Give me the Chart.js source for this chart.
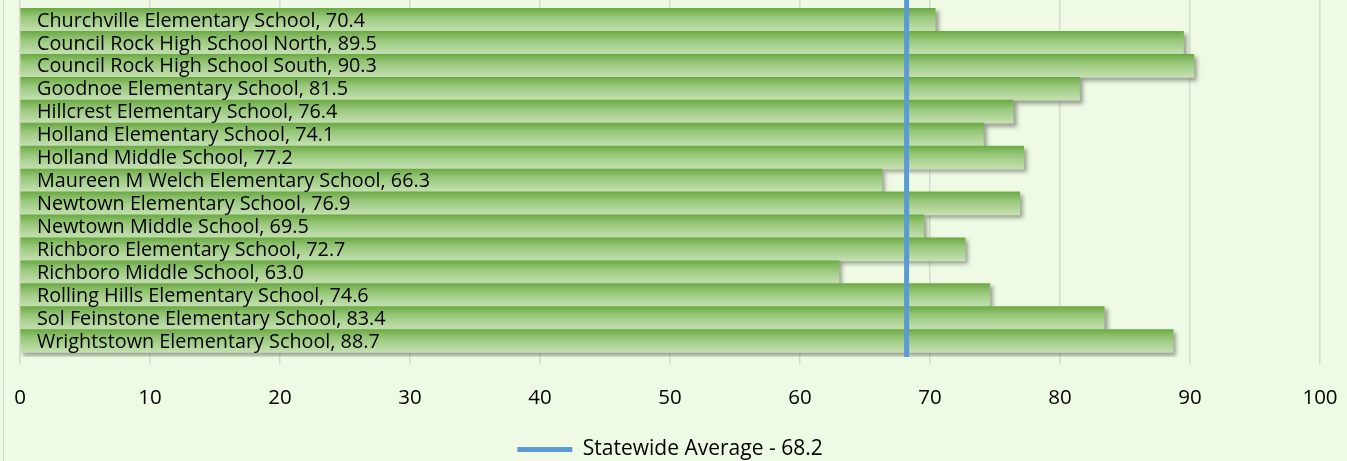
<!DOCTYPE html>
<html><head><meta charset="utf-8">
<script src="https://cdn.jsdelivr.net/npm/chart.js@4/dist/chart.umd.min.js"></script>
<style>html,body{margin:0;padding:0;background:#EEFAE3;}#wrap{width:1347px;height:461px;position:relative;}</style>
</head><body><div id="wrap"><canvas id="c" width="1347" height="461"></canvas></div>
<script>
const schools = ["Churchville Elementary School","Council Rock High School North","Council Rock High School South","Goodnoe Elementary School","Hillcrest Elementary School","Holland Elementary School","Holland Middle School","Maureen M Welch Elementary School","Newtown Elementary School","Newtown Middle School","Richboro Elementary School","Richboro Middle School","Rolling Hills Elementary School","Sol Feinstone Elementary School","Wrightstown Elementary School"];
const scores = [70.4,89.5,90.3,81.5,76.4,74.1,77.2,66.3,76.9,69.5,72.7,63.0,74.6,83.4,88.7];
const statewideAverage = 68.2;
const xTicks = [0,10,20,30,40,50,60,70,80,90,100];

const Y_MIN = -0.87, Y_MAX = 14.696;
const FONT = "'Open Sans', sans-serif";

const barData = schools.map((s,i)=>({x:scores[i], y:i}));

const deco = {
  id:'deco',
  beforeDraw(chart){
    const ctx = chart.ctx;
    ctx.save();
    ctx.fillStyle = '#D3DACB';
    ctx.fillRect(3,0,1,chart.height);
    ctx.restore();
  },
  beforeDatasetDraw(chart, args){
    if (args.index === 1){
      const ctx = chart.ctx;
      ctx.save();
      ctx.shadowColor = 'rgba(0,0,0,0.35)';
      ctx.shadowOffsetX = 3; ctx.shadowOffsetY = 3; ctx.shadowBlur = 4;
    }
  },
  afterDatasetDraw(chart, args){
    if (args.index === 1){
      chart.ctx.restore();
      const ctx = chart.ctx;
      const meta = chart.getDatasetMeta(1);
      const x0 = chart.scales.x.getPixelForValue(0);
      ctx.save();
      ctx.fillStyle = '#000';
      ctx.font = "19.8px " + FONT;
      ctx.textBaseline = 'middle';
      meta.data.forEach((el,i)=>{
        ctx.fillText(schools[i] + ", " + scores[i].toFixed(1), x0 + 17, el.y + 1);
      });
      ctx.restore();
    }
  }
};

new Chart(document.getElementById('c'), {
  type:'bar',
  data:{
    datasets:[
      {
        type:'line',
        label:'Statewide Average - ' + statewideAverage.toFixed(1),
        data:[{x:statewideAverage,y:Y_MIN},{x:statewideAverage,y:Y_MAX}],
        borderColor:'#5B9BD5', backgroundColor:'#5B9BD5', borderWidth:5,
        pointRadius:0, pointHoverRadius:0, order:0, clip:false, borderCapStyle:'butt'
      },
      {
        type:'bar',
        label:'Scores',
        data:barData,
        barThickness:23,
        order:1,
        borderWidth:0,
        backgroundColor:(c)=>{
          const s = c.chart.scales && c.chart.scales.y;
          if (!s || c.dataIndex === undefined) return '#9CCB7E';
          const yc = s.getPixelForValue(c.dataIndex);
          if (!isFinite(yc)) return '#9CCB7E';
          const g = c.chart.ctx.createLinearGradient(0, yc-11.5, 0, yc+11.5);
          g.addColorStop(0,'#6DAA44');
          g.addColorStop(0.35,'#95C677');
          g.addColorStop(1,'#C6E1B3');
          return g;
        }
      }
    ]
  },
  options:{
    indexAxis:'y',
    animation:false,
    responsive:false,
    maintainAspectRatio:false,
    layout:{autoPadding:false, padding:{left:20,right:27,top:0,bottom:-9}},
    scales:{
      x:{
        type:'linear', min:0, max:100,
        afterBuildTicks(ax){ ax.ticks = xTicks.map(v=>({value:v})); },
        afterFit(ax){ ax.height = 82; ax.paddingLeft = 0; ax.paddingRight = 0; },
        grid:{color:'#D6DBCF', lineWidth:1.5, tickLength:7, drawTicks:true},
        border:{display:false},
        ticks:{font:{family:FONT,size:20.5},color:'#000',padding:22, maxRotation:0}
      },
      y:{
        type:'linear', reverse:true, min:Y_MIN, max:Y_MAX, display:false, offset:false
      }
    },
    plugins:{
      legend:{
        position:'bottom',
        labels:{
          filter:(item)=>item.datasetIndex===0,
          usePointStyle:true, pointStyle:'line', pointStyleWidth:55,
          font:{family:FONT,size:21}, color:'#000', padding:0
        }
      },
      tooltip:{enabled:false}
    }
  },
  plugins:[deco]
});
</script></body></html>
